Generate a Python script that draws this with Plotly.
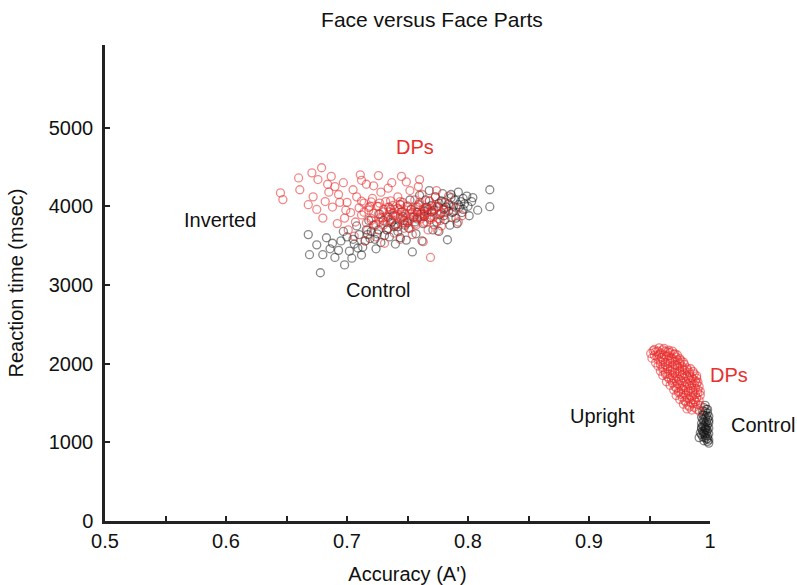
import plotly.graph_objects as go

# Inverted faces, DPs (red)
inv_dp_x = [0.645,0.647,0.660,0.661,0.671,0.679,0.676,0.684,0.690,0.672,0.668,0.675,0.682,0.688,0.693,0.697,0.700,0.703,0.698,0.705,
            0.708,0.710,0.712,0.714,0.716,0.718,0.720,0.721,0.723,0.725,0.726,0.728,0.729,0.730,0.732,0.733,0.735,0.736,0.737,0.738,
            0.740,0.741,0.742,0.743,0.745,0.746,0.747,0.748,0.750,0.751,0.752,0.753,0.755,0.756,0.757,0.758,0.760,0.761,0.762,0.764,
            0.765,0.766,0.768,0.769,0.770,0.772,0.773,0.775,0.777,0.779,0.781,0.784,0.786,0.790,0.795,0.701,0.706,0.715,0.724,0.731,
            0.744,0.754,0.763,0.712,0.722,0.734,0.749,0.759,0.774,0.687,0.694,0.699,0.707,0.717,0.727,0.739,0.752,0.767,0.778,0.785,
            0.792,0.719,0.727,0.733,0.739,0.744,0.748,0.753,0.757,0.762,0.766,0.771,0.776,0.780,0.735,0.742,0.750,0.758,0.763,0.769,
            0.680,0.692,0.685,0.711,0.726,0.745,0.760,0.730,0.746,0.775,
            0.716,0.724,0.732,0.740,0.748,0.756,0.764,0.772,
            0.720,0.728,0.736,0.744,0.752,0.760,0.768,0.776,
            0.714,0.722,0.730,0.738,0.746,0.754,0.762,0.770,0.778,
            0.718,0.726,0.734,0.742,0.750,0.758,0.766,0.774,
            0.712,0.720,0.736,0.744,0.760,0.768]
inv_dp_y = [4170,4085,4360,4210,4425,4490,4340,4280,4250,4120,4020,3960,4060,3990,4150,4300,4050,3920,3850,4210,
            4120,3980,3890,4040,4280,3950,3820,4100,3760,4000,3900,4180,3850,3960,4060,3700,3930,3820,4300,4010,
            3880,3780,4120,3950,3850,4050,3720,3900,4000,3810,4200,3960,3870,4080,3760,3930,4020,3840,4150,3900,
            3980,3800,4070,3350,3950,3870,4120,3990,3820,4050,3920,4130,3860,3980,3880,3700,3620,3560,3610,3530,
            3580,3640,3550,4330,4260,4230,4310,4250,4200,4380,4050,3950,3800,3700,3800,3660,3720,3700,3750,4010,
            3800,4000,4040,3870,3960,4020,3820,3900,3990,3870,3920,4000,3900,3970,3990,3900,3950,3860,3960,3830,
            3850,3780,4180,4400,4390,4380,4340,3760,3790,3690,
            3790,3770,3800,3760,3785,3775,3795,3765,
            3845,3860,3835,3855,3840,3865,3850,3840,
            3925,3910,3930,3915,3935,3920,3910,3930,3920,
            3985,4000,3990,3975,4005,3995,3980,3990,
            4065,4055,4070,4060,4050,4065]

# Inverted faces, controls (black)
inv_ct_x = [0.668,0.678,0.669,0.680,0.698,0.686,0.675,0.690,0.695,0.702,0.683,0.700,0.706,0.710,0.713,0.716,0.719,0.722,0.725,0.728,
            0.730,0.733,0.735,0.738,0.740,0.742,0.745,0.747,0.749,0.751,0.753,0.755,0.754,0.757,0.759,0.761,0.763,0.765,0.767,0.769,
            0.771,0.773,0.775,0.777,0.779,0.781,0.783,0.784,0.786,0.788,0.790,0.792,0.794,0.796,0.799,0.804,0.818,0.818,0.808,0.801,
            0.785,0.776,0.762,0.740,0.724,0.712,0.704,0.693,0.688,0.697,0.708,0.718,0.727,0.736,0.744,0.752,0.760,0.768,0.774,0.780,
            0.787,0.793,0.797,0.778,0.770,0.764,0.756,0.748,0.739,0.731,0.723,0.715,0.705,0.737,0.746,0.758,0.766,0.782,0.789,0.791,
            0.744,0.734,0.720,0.709,
            0.772,0.776,0.780,0.784,0.788,0.792,0.796,0.786,0.770,0.764,0.758,0.750,0.742,0.734,0.726,0.717,0.800,0.803,0.795,0.781]
inv_ct_y = [3640,3155,3385,3385,3255,3460,3510,3350,3560,3430,3600,3610,3520,3640,3480,3700,3590,3760,3650,3540,
            3820,3700,3610,3880,3760,3680,3930,3820,3570,3720,3960,3860,3420,3650,4020,3900,3780,4080,3960,3860,
            3700,4120,4000,3900,4160,4050,3575,3940,4110,4000,3850,4180,4060,3960,4130,4110,4210,3995,3950,3880,
            3760,3680,3560,3520,3460,3380,3340,3440,3530,3680,3750,3820,3900,3960,4020,4080,4140,4200,3800,3880,
            3920,3990,4030,4070,4010,3940,3800,3760,3740,3630,3580,3560,3580,3800,3870,3920,3990,3990,4080,3780,
            3600,3860,3680,3470,
            3950,4040,3960,4030,3930,4020,4100,4150,3930,3870,3840,3790,3740,3720,3700,3640,4000,4060,3920,3830]

# Upright faces, DPs (red)
up_dp_x = [0.954,0.958,0.962,0.966,
           0.951,0.955,0.959,0.963,0.967,0.971,
           0.952,0.956,0.960,0.964,0.968,0.972,0.975,
           0.955,0.959,0.963,0.967,0.971,0.975,0.978,
           0.957,0.961,0.965,0.969,0.973,0.977,0.981,
           0.959,0.963,0.967,0.971,0.975,0.979,0.983,0.986,
           0.961,0.965,0.969,0.973,0.977,0.981,0.985,0.989,
           0.964,0.968,0.972,0.976,0.980,0.984,0.988,0.990,
           0.967,0.971,0.975,0.979,0.983,0.987,0.991,
           0.970,0.974,0.978,0.982,0.986,0.990,0.992,
           0.972,0.976,0.980,0.984,0.988,0.992,
           0.975,0.979,0.983,0.987,0.991,
           0.978,0.982,0.986,0.990,0.992,
           0.981,0.985,0.989,0.991,
           0.953,0.957,0.961,0.965,0.969,
           0.954,0.958,0.962,0.966,0.970,0.973,
           0.957,0.961,0.965,0.969,0.973,0.976,
           0.959,0.963,0.967,0.971,0.975,0.979,
           0.961,0.965,0.969,0.973,0.977,0.981,0.984,
           0.963,0.967,0.971,0.975,0.979,0.983,0.987,
           0.966,0.970,0.974,0.978,0.982,0.986,0.989,
           0.969,0.973,0.977,0.981,0.985,0.989,
           0.972,0.976,0.980,0.984,0.988,
           0.974,0.978,0.982,0.986,0.990,
           0.977,0.981,0.985,0.989,
           0.980,0.984,0.988,
           0.983,0.987]
up_dp_y = [2180,2200,2195,2170,
           2130,2150,2135,2155,2140,2125,
           2070,2090,2080,2095,2075,2085,2065,
           2010,2030,2015,2025,2035,2010,2020,
           1970,1950,1965,1955,1975,1960,1945,
           1905,1890,1910,1895,1900,1915,1890,1900,
           1850,1835,1845,1830,1850,1840,1825,1845,
           1770,1790,1775,1785,1770,1790,1780,1765,
           1725,1710,1730,1715,1720,1735,1710,
           1665,1650,1670,1655,1660,1670,1645,
           1595,1610,1600,1590,1605,1600,
           1545,1530,1550,1540,1535,
           1485,1470,1490,1480,1470,
           1425,1410,1420,1400,
           2165,2160,2175,2150,2160,
           2105,2115,2110,2100,2120,2110,
           2050,2055,2045,2060,2050,2040,
           1990,1985,2000,1985,1995,1990,
           1930,1935,1925,1940,1930,1925,1935,
           1870,1865,1880,1870,1875,1865,1870,
           1810,1815,1805,1820,1810,1805,1815,
           1750,1745,1755,1745,1750,1755,
           1690,1685,1695,1685,1690,
           1630,1625,1635,1625,1630,
           1570,1565,1575,1565,
           1510,1505,1515,
           1450,1445]

# Upright faces, controls (black)
up_ct_x = [0.996,0.995,0.997,0.994,0.996,0.998,0.995,0.997,0.993,0.996,0.998,0.994,0.995,0.997,0.999,0.993,0.996,0.998,0.994,0.995,
           0.997,0.999,0.993,0.996,0.998,0.994,0.995,0.997,0.999,0.993,0.996,0.998,0.994,0.996,0.998,0.997,0.999,0.995,0.998,0.999,
           0.991,0.992,0.993,0.994,0.999,0.999,0.998,0.997,0.995,0.996]
up_ct_y = [1470,1440,1420,1400,1390,1370,1350,1340,1320,1310,1300,1290,1270,1260,1250,1240,1230,1220,1210,1200,
           1190,1180,1170,1160,1150,1140,1130,1120,1110,1100,1090,1080,1070,1060,1050,1040,1030,1020,1010,990,
           1060,1120,1190,1350,1280,1330,1420,1160,1110,1180]

RED = "rgba(232,40,40,0.55)"
BLACK = "rgba(20,20,20,0.5)"
FONT = "Liberation Sans, Arial, sans-serif"
X0, X1, Y0, Y1 = 0.5, 1.0, 0, 6050

fig = go.Figure()
for xs, ys, col, name in [(inv_ct_x, inv_ct_y, BLACK, "Inverted control"),
                          (inv_dp_x, inv_dp_y, RED, "Inverted DPs"),
                          (up_ct_x, up_ct_y, BLACK, "Upright control"),
                          (up_dp_x, up_dp_y, RED, "Upright DPs")]:
    fig.add_trace(go.Scatter(x=xs, y=ys, mode="markers", name=name, cliponaxis=False,
                             marker=dict(symbol="circle-open", size=8, color=col, line=dict(width=1.3, color=col))))

labels = [("DPs", 0.756, 4750, "#e8302c"), ("Inverted", 0.595, 3830, "#111"), ("Control", 0.726, 2940, "#111"),
          ("DPs", 1.016, 1860, "#e8302c"), ("Upright", 0.911, 1335, "#111"), ("Control", 1.044, 1220, "#111")]
for t, x, y, c in labels:
    fig.add_annotation(x=(x - X0) / (X1 - X0), y=(y - Y0) / (Y1 - Y0), xref="paper", yref="paper",
                       xanchor="center", yanchor="middle",
                       text=t, showarrow=False, font=dict(family=FONT, size=20, color=c))

fig.update_layout(
    width=797, height=585, showlegend=False,
    paper_bgcolor="white", plot_bgcolor="white",
    margin=dict(l=105, r=87, t=45, b=64, autoexpand=False),
    font=dict(family=FONT, size=20, color="#111"),
    title=dict(text="Face versus Face Parts", x=0.542, xanchor="center", y=0.966, yanchor="middle",
               font=dict(family=FONT, size=21, color="#111")),
)
fig.update_xaxes(range=[X0, X1], tickmode="array", tickvals=[0.5,0.6,0.7,0.8,0.9,1.0],
                 ticktext=["0.5","0.6","0.7","0.8","0.9","1"], automargin=False,
                 ticks="inside", ticklen=5, tickwidth=1.5, tickcolor="#222",
                 minor=dict(tickmode="array", tickvals=[0.55,0.65,0.75,0.85,0.95], ticks="inside", ticklen=5, tickwidth=1.5, tickcolor="#222"),
                 showline=True, linewidth=2.5, linecolor="#222", showgrid=False, zeroline=False,
                 tickfont=dict(size=20), title=dict(text="Accuracy (A')", font=dict(size=20), standoff=17))
fig.update_yaxes(range=[Y0, Y1], tickmode="array", tickvals=[0,1000,2000,3000,4000,5000], automargin=False,
                 ticks="inside", ticklen=5, tickwidth=1.5, tickcolor="#222", ticklabelstandoff=5,
                 showline=True, linewidth=2.5, linecolor="#222", showgrid=False, zeroline=False,
                 tickfont=dict(size=20), title=dict(text="Reaction time (msec)", font=dict(size=20), standoff=20))

fig.write_html("out.html", config={"displayModeBar": False},
               post_script="document.body.style.margin='0';document.body.style.overflow='hidden';")
